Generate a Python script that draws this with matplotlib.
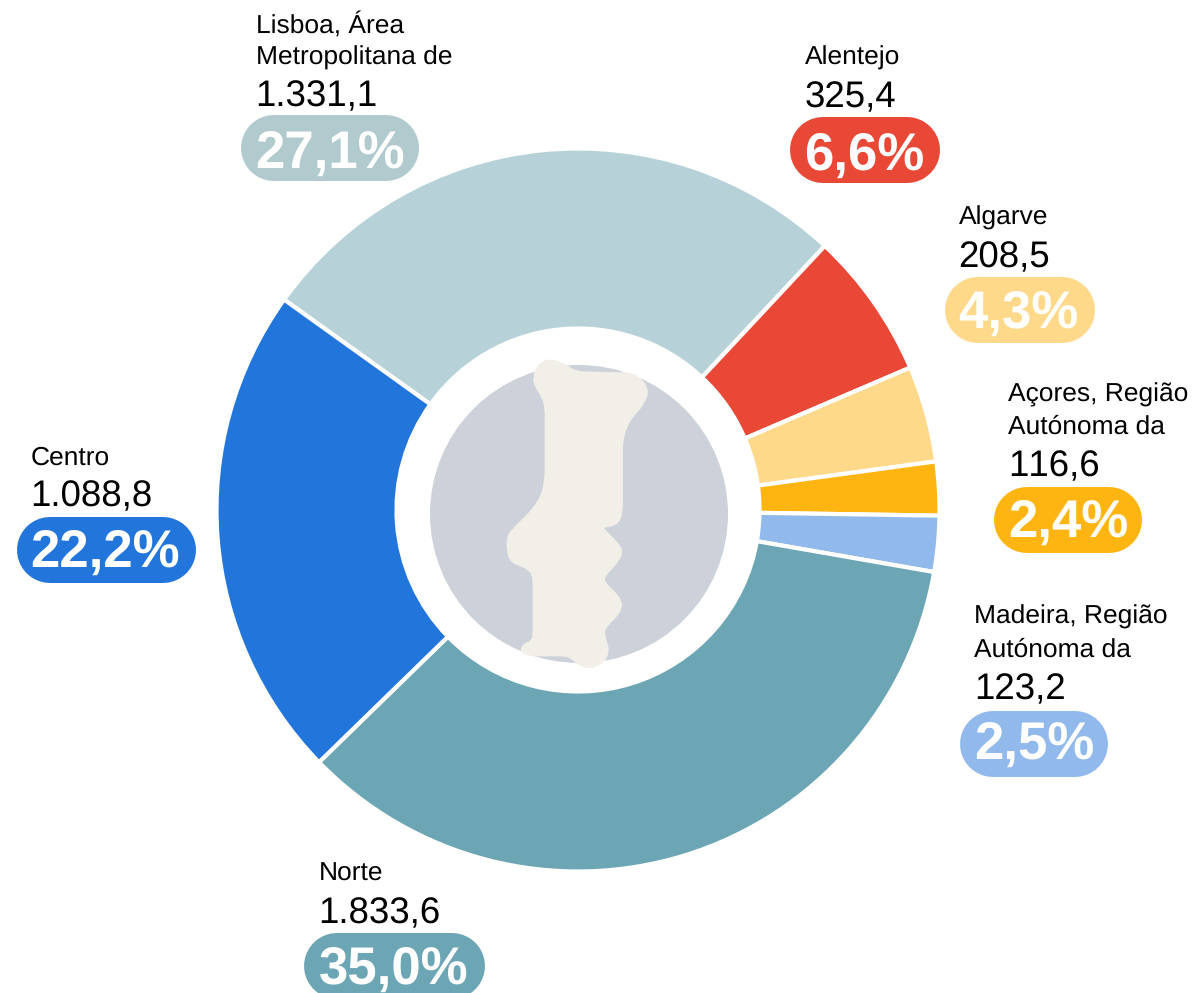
import matplotlib
matplotlib.use('Agg')
import matplotlib.pyplot as plt
import numpy as np
from matplotlib.patches import Circle, PathPatch
from matplotlib.path import Path

plt.rcParams['font.family'] = ['Liberation Sans', 'DejaVu Sans']
plt.rcParams['text.kerning_factor'] = 6
plt.rcParams['text.hinting'] = 'no_hinting'

W, H = 1193, 993

# dados, sentido horario a partir de Lisboa
names = ['Lisboa, Área\nMetropolitana de', 'Alentejo', 'Algarve',
         'Açores, Região\nAutónoma da', 'Madeira, Região\nAutónoma da', 'Norte', 'Centro']
values = ['1.331,1', '325,4', '208,5', '116,6', '123,2', '1.833,6', '1.088,8']
shares = [27.1, 6.6, 4.3, 2.4, 2.5, 35.0, 22.2]
share_labels = ['27,1%', '6,6%', '4,3%', '2,4%', '2,5%', '35,0%', '22,2%']
colors = ['#b6d2d8', '#e94837', '#ffd98a', '#ffb511', '#91b9ec', '#6ca6b4', '#2275db']
pill_colors = ['#b0cace', '#e94837', '#ffd98a', '#ffb511', '#91b9ec', '#6ca6b4', '#2275db']

# posicao das etiquetas em pixeis
label_x = [255.5, 804.5, 958.5, 1008.5, 974.5, 318.5, 30.5]
pill_left = [241, 790, 945, 994, 960, 304, 17]
pill_right = [419, 940, 1095, 1142, 1108, 485, 196]
pill_top = [115, 117, 277, 487, 710.5, 933, 517]
name_base = [65, 65, 225, 434, 656.5, 881, 465]
value_base = [106, 107.5, 267.5, 476, 699, 923, 506.5]
share_base = [168, 170, 328, 537, 759, 983.5, 567]

# contorno do mapa, pixeis do grafico original
map_outline = [(395, 58), (430, 70), (470, 95), (630, 98), (665, 115), (687, 155), (670, 195),
               (630, 240), (610, 290), (607, 340), (607, 520), (597, 548), (570, 561), (546, 561),
               (600, 615), (607, 638), (598, 660), (553, 712), (553, 725), (598, 770), (607, 795),
               (598, 820), (558, 862), (552, 880), (568, 930), (555, 965), (512, 987), (475, 975),
               (445, 948), (330, 948), (305, 938), (302, 925), (315, 910), (330, 905), (339, 890),
               (339, 715), (330, 692), (300, 677), (275, 668), (261, 640), (261, 590), (275, 570),
               (335, 510), (365, 465), (375, 410), (375, 200), (365, 170), (345, 140), (339, 115),
               (350, 80), (370, 63)]


def py(y):
    return H - y


def rounded_path(points, r):
    # cantos arredondados com curvas quadraticas
    points = [np.array(p, dtype=float) for p in points]
    verts = []
    codes = []
    n = len(points)
    for i in range(n):
        v = points[i]
        prev = points[i - 1]
        nxt = points[(i + 1) % n]
        p_in = v + (prev - v) * min(r / np.linalg.norm(prev - v), 0.5)
        p_out = v + (nxt - v) * min(r / np.linalg.norm(nxt - v), 0.5)
        verts += [p_in, v, p_out]
        codes += [Path.MOVETO if i == 0 else Path.LINETO, Path.CURVE3, Path.CURVE3]
    verts.append(verts[0])
    codes.append(Path.LINETO)
    return Path(verts, codes)


fig = plt.figure(figsize=(W / 100, H / 100), dpi=100)
ax = fig.add_axes([0, 0, 1, 1])
ax.pie(shares, colors=colors, startangle=144.4, counterclock=False,
       center=(578, py(510)), radius=361.5,
       wedgeprops=dict(width=180, edgecolor='white', linewidth=3))
ax.set_xlim(0, W)
ax.set_ylim(0, H)
ax.set_aspect('equal')
ax.axis('off')

# circulo e mapa do centro
ax.add_patch(Circle((579, py(514)), 149, color='#cdd1d9', lw=0, zorder=3))
pts = [(420 + x / 3, py(340 + y / 3)) for x, y in map_outline]
ax.add_patch(PathPatch(rounded_path(pts, 7), facecolor='#f2efe9', edgecolor='#f2efe9', lw=0.5, zorder=4))

for i in range(len(names)):
    x = label_x[i]
    top = pill_top[i]
    lines = names[i].split('\n')
    for j, line in enumerate(lines):
        ax.text(x, py(name_base[i] - 32.5 * (len(lines) - 1 - j)), line, fontsize=19,
                color='black', va='baseline', ha='left', zorder=6)
    ax.text(x, py(value_base[i]), values[i], fontsize=26.4, color='black', va='baseline', ha='left', zorder=6)
    ax.text(x, py(share_base[i]), share_labels[i], fontsize=38, fontweight='bold',
            color='white', va='baseline', ha='left', zorder=7)
    # pilula: linha grossa com pontas redondas
    ax.plot([pill_left[i] + 33, pill_right[i] - 33], [py(top + 33)] * 2, color=pill_colors[i],
            lw=66 * 0.72, solid_capstyle='round', zorder=5)

fig.savefig('out.png', dpi=100, facecolor='white')
